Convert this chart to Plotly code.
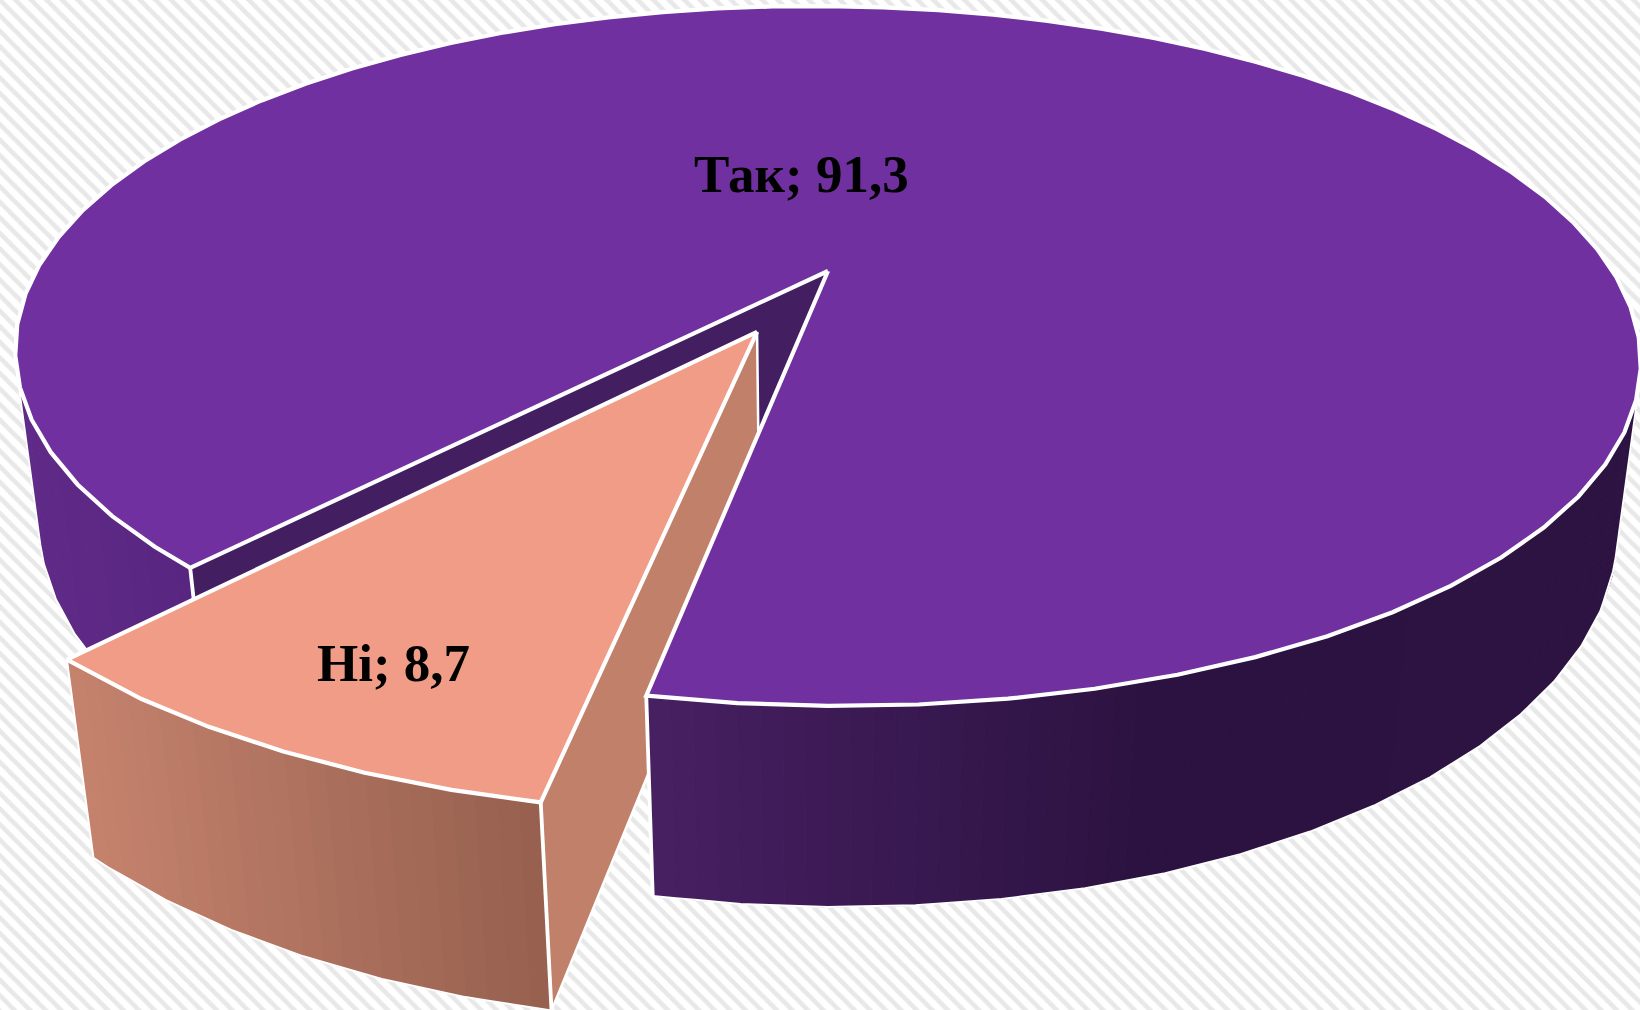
import numpy as np
import plotly.graph_objects as go

# ---- data ----
categories = ["Так", "Ні"]
values = [91.3, 8.7]
label_x = [801, 393]
label_y = [174, 663]

# ---- style / geometry of the perspective pie ----
TOP = {"Так": "#7030A0", "Ні": "#F09C86"}
RADIAL = {"Так": "#431E60", "Ні": "#C08069"}
WALL_STOPS = {
    "Так": [(20, (96, 43, 136)), (190, (88, 38, 128)), (650, (71, 32, 98)), (1150, (43, 18, 64)), (1640, (45, 19, 66))],
    "Ні": [(96, (196, 130, 108)), (540, (150, 96, 79))],
}
CX, CY, A, B, K, M, C = 828.0, 271.0, 788.5, 329.3, 0.2429, 0.028, 170.0
TILT = 0.008           # slight clockwise lean of the whole pie
START_DEG = 100.1      # where the "Ні" slice begins
EXPLODE = 0.198
KNOT_DEG = 5.0         # the rim is a polygon with a corner every few degrees
WHITE = "#FFFFFF"


def project(u, v, z):
    w = 1 - K * v + M * z
    dx = A * u / w
    return CX + dx, CY + (B * v + C * z) / w + TILT * dx


def rim(theta, z, off=(0.0, 0.0)):
    t = np.radians(theta)
    return project(np.cos(t) + off[0], np.sin(t) + off[1], z)


def poly_rim(t0, t1, z, off=(0.0, 0.0), sub=1):
    first = np.ceil(t0 / KNOT_DEG + 1e-6) * KNOT_DEG
    inner = np.arange(first, t1 - 1e-6, KNOT_DEG)
    knots = np.concatenate([[t0], inner, [t1]])
    kx, ky = rim(knots, z, off)
    pos = np.linspace(0, len(knots) - 1, (len(knots) - 1) * sub + 1)
    idx = np.arange(len(knots))
    return np.interp(pos, idx, kx), np.interp(pos, idx, ky)


def wall_colour(name, x):
    stops = WALL_STOPS[name]
    xs = [s[0] for s in stops]
    rgb = [np.interp(x, xs, [s[1][i] for s in stops]) for i in range(3)]
    return "rgb(%d,%d,%d)" % tuple(int(round(c)) for c in rgb)


fig = go.Figure()


def poly(x, y, fill=None, line=WHITE, width=0.0, closed=True):
    x, y = list(x), list(y)
    if closed:
        x, y = x + x[:1], y + y[:1]
    fig.add_trace(go.Scatter(
        x=x, y=y, mode="lines", hoverinfo="skip", showlegend=False,
        fill="toself" if fill else "none", fillcolor=fill,
        line=dict(color=line, width=width, shape="linear"),
    ))


def wall(name, t0, t1, off=(0.0, 0.0), outline=2.0, edge_at=()):
    xt, yt = poly_rim(t0, t1, 0, off, sub=4)
    xb, yb = poly_rim(t0, t1, 1, off, sub=4)
    for i in range(len(xt) - 1):
        col = wall_colour(name, (xt[i] + xt[i + 1] + xb[i] + xb[i + 1]) / 4)
        poly([xt[i], xt[i + 1], xb[i + 1], xb[i]], [yt[i], yt[i + 1], yb[i + 1], yb[i]],
             fill=col, line=col, width=1)
    poly(list(xt) + list(xb[::-1]), list(yt) + list(yb[::-1]), line=WHITE, width=outline)
    for t in edge_at:
        xa, ya = rim(np.array([t]), 0, off)
        xc, yc = rim(np.array([t]), 1, off)
        poly([xa[0], xc[0]], [ya[0], yc[0]], line=WHITE, width=3.8, closed=False)


def radial(name, theta, off=(0.0, 0.0), width=2.5):
    x1, y1 = project(off[0], off[1], 0)
    x2, y2 = rim(theta, 0, off)
    x3, y3 = rim(theta, 1, off)
    x4, y4 = project(off[0], off[1], 1)
    poly([x1, x2, x3, x4], [y1, y2, y3, y4], fill=RADIAL[name], line=WHITE, width=width)


def top_face(name, t0, t1, off=(0.0, 0.0)):
    x, y = poly_rim(t0, t1, 0, off)
    ax, ay = project(off[0], off[1], 0)
    poly([ax] + list(x), [ay] + list(y), fill=TOP[name], line=WHITE, width=4.2)


# slice angles follow from the values
total = sum(values)
no_start = START_DEG
no_end = no_start + values[1] / total * 360
yes_start = no_end
yes_end = no_start + 360
mid = np.radians((no_start + no_end) / 2)
offset = (EXPLODE * np.cos(mid), EXPLODE * np.sin(mid))

# silhouette of the cylinder side: where rim tangent lines up with the generator
grid = np.arange(yes_start, yes_end, 0.1)
x0, y0 = rim(grid, 0)
x1, y1 = rim(grid, 1)
tx, ty = np.gradient(x0), np.gradient(y0)
cross = tx * (y1 - y0) - ty * (x1 - x0)
front_sign = np.sign(cross[0])
hidden = np.where(np.sign(cross) != front_sign)[0]
left_end = grid[hidden[0]]
right_start = grid[hidden[-1]]

# background
fig.add_trace(go.Scatter(
    x=[0, 1640, 1640, 0, 0], y=[0, 0, 1010, 1010, 0], mode="lines", fill="toself",
    line=dict(width=0), hoverinfo="skip", showlegend=False,
    fillcolor="white",
    fillpattern=dict(shape="\\", size=11, solidity=0.42, fgcolor="#E8E8E8", bgcolor="#FFFFFF", fillmode="replace"),
))

# painter's order
radial("Так", yes_start)
wall("Так", yes_start, left_end, edge_at=[yes_start])
radial("Ні", no_start, offset)
wall("Ні", no_start, no_end, offset, edge_at=[no_start])
wall("Так", right_start, yes_end, edge_at=[yes_end])
top_face("Так", yes_start, yes_end)
top_face("Ні", no_start, no_end, offset)

for name, val, lx, ly in zip(categories, values, label_x, label_y):
    fig.add_annotation(
        x=lx, y=ly, xref="x", yref="y", showarrow=False,
        text="<b>%s; %s</b>" % (name, str(val).replace(".", ",")),
        font=dict(family="Liberation Serif", size=53, color="#000000"),
    )

fig.update_layout(
    width=1640, height=1010, margin=dict(l=0, r=0, t=0, b=0),
    paper_bgcolor="white", plot_bgcolor="white", showlegend=False,
    xaxis=dict(range=[0, 1640], visible=False, fixedrange=True),
    yaxis=dict(range=[1010, 0], visible=False, fixedrange=True),
)
fig.write_html("out.html", config={"displayModeBar": False},
               post_script="document.body.style.margin='0';document.body.style.overflow='hidden';")
